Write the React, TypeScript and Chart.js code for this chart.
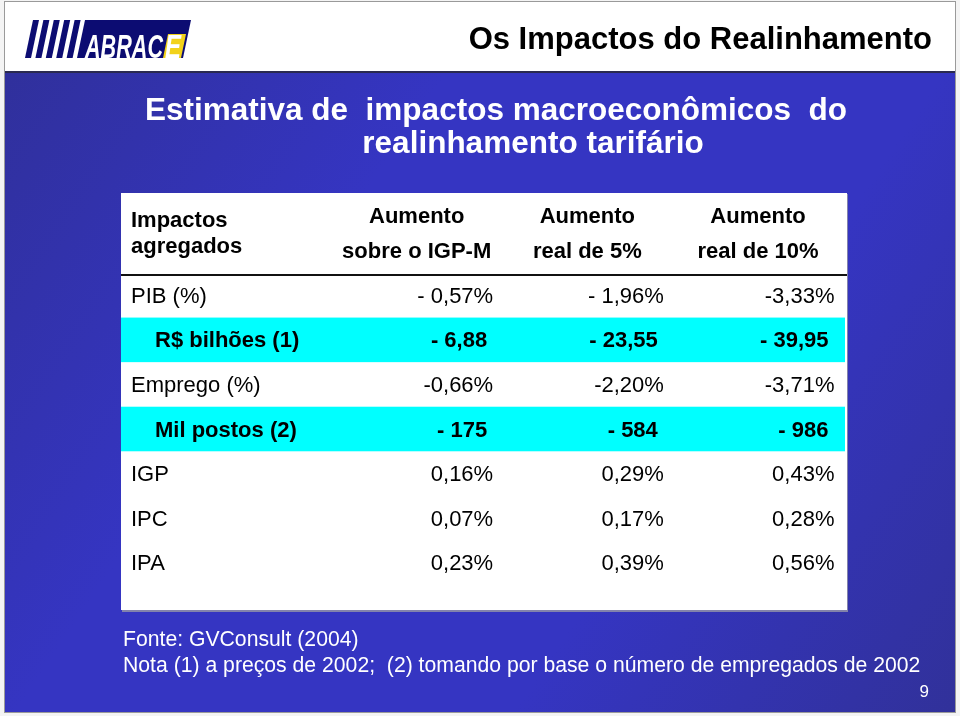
import React, { useEffect, useRef } from "react";
import { Chart, registerables } from "chart.js";

Chart.register(...registerables);

// ---------- data ----------
const slideTitle = "Os Impactos do Realinhamento";
const subtitleLines = ["Estimativa de  impactos macroeconômicos  do", "realinhamento tarifário"];
const cornerHeader = ["Impactos", "agregados"];
const scenarioKeys = ["label", "igpm", "real5", "real10"];
const scenarioHeaders = [
  ["Aumento", "sobre o IGP-M"],
  ["Aumento", "real de 5%"],
  ["Aumento", "real de 10%"],
];
const rowLabels = ["PIB (%)", "R$ bilhões (1)", "Emprego (%)", "Mil postos (2)", "IGP", "IPC", "IPA"];
const highlightRows = [false, true, false, true, false, false, false];
const igpmValues = ["- 0,57%", "- 6,88", "-0,66%", "- 175", "0,16%", "0,07%", "0,23%"];
const real5Values = ["- 1,96%", "- 23,55", "-2,20%", "- 584", "0,29%", "0,17%", "0,39%"];
const real10Values = ["-3,33%", "- 39,95", "-3,71%", "- 986", "0,43%", "0,28%", "0,56%"];
const footnotes = [
  "Fonte: GVConsult (2004)",
  "Nota (1) a preços de 2002;  (2) tomando por base o número de empregados de 2002",
];
const pageNumber = "9";

const FONT = '"Liberation Sans", Arial, Helvetica, sans-serif';
const NAVY = "#0c0c72";

function drawLogo(ctx: CanvasRenderingContext2D) {
  ctx.save();
  ctx.fillStyle = NAVY;
  // slanted stripes
  for (let i = 0; i < 6; i++) {
    const bx = 25 + i * 10.4;
    ctx.beginPath();
    ctx.moveTo(bx, 58);
    ctx.lineTo(bx + 6, 58);
    ctx.lineTo(bx + 14, 20);
    ctx.lineTo(bx + 8, 20);
    ctx.closePath();
    ctx.fill();
  }
  // banner
  ctx.beginPath();
  ctx.moveTo(82, 58);
  ctx.lineTo(183, 58);
  ctx.lineTo(191, 20);
  ctx.lineTo(90, 20);
  ctx.closePath();
  ctx.fill();
  // yellow box for E
  ctx.fillStyle = "#f2d21a";
  ctx.beginPath();
  ctx.moveTo(163, 58);
  ctx.lineTo(181, 58);
  ctx.lineTo(186, 34);
  ctx.lineTo(168, 34);
  ctx.closePath();
  ctx.fill();
  // letters
  ctx.font = `italic bold 30px ${FONT}`;
  ctx.textBaseline = "alphabetic";
  ctx.textAlign = "left";
  const w = ctx.measureText("ABRAC").width;
  ctx.save();
  ctx.translate(85, 58);
  ctx.scale(78 / w, 1.08);
  ctx.fillStyle = "#ffffff";
  ctx.fillText("ABRAC", 0, 0);
  ctx.restore();
  const we = ctx.measureText("E").width;
  ctx.save();
  ctx.translate(165, 58);
  ctx.scale(16 / we, 1.08);
  ctx.fillStyle = "#ffffff";
  ctx.fillText("E", 0, 0);
  ctx.restore();
  ctx.restore();
}

const slidePlugin = {
  id: "slideTable",
  beforeDraw(chart: any) {
    const ctx: CanvasRenderingContext2D = chart.ctx;
    const W = chart.width;
    const H = chart.height;
    const xs = chart.scales.x;
    const ys = chart.scales.y;
    ctx.save();
    // page
    ctx.fillStyle = "#f4f4f4";
    ctx.fillRect(0, 0, W, H);
    // header band
    ctx.fillStyle = "#ffffff";
    ctx.fillRect(5, 2, 950, 70);
    ctx.strokeStyle = "#9a9a9a";
    ctx.lineWidth = 1;
    ctx.strokeRect(4.5, 1.5, 951, 711);
    ctx.fillStyle = "#2a2a50";
    ctx.fillRect(5, 71, 950, 2);
    // blue gradient body
    const g = ctx.createLinearGradient(5, 73, 955, 712);
    g.addColorStop(0, "#30309c");
    g.addColorStop(0.32, "#3535c2");
    g.addColorStop(0.68, "#3535c2");
    g.addColorStop(1, "#31319a");
    ctx.fillStyle = g;
    ctx.fillRect(5, 73, 950, 639);

    drawLogo(ctx);

    // table box
    const boxL = 121, boxR = 847, boxT = 193, boxB = 610;
    ctx.fillStyle = "rgba(140,140,170,0.9)";
    ctx.fillRect(boxL + 1, boxT + 1, boxR - boxL, boxB - boxT + 1);
    ctx.fillStyle = "#ffffff";
    ctx.fillRect(boxL, boxT, boxR - boxL, boxB - boxT);

    // highlighted rows (slots from the y category scale)
    const step = ys.getPixelForValue(1) - ys.getPixelForValue(0);
    rowLabels.forEach((_, i) => {
      if (!highlightRows[i]) return;
      const c = ys.getPixelForValue(i);
      ctx.fillStyle = "#00ffff";
      ctx.fillRect(boxL, c - step / 2, boxR - 2 - boxL, step);
    });

    // header rule
    ctx.fillStyle = "#111111";
    ctx.fillRect(boxL, ys.top + 1, boxR - boxL, 2);

    // ---- texts ----
    ctx.textBaseline = "alphabetic";
    ctx.fillStyle = "#000000";
    ctx.font = `bold 31px ${FONT}`;
    ctx.textAlign = "right";
    ctx.fillText(slideTitle, 932, 49);

    ctx.fillStyle = "#ffffff";
    ctx.font = `bold 31.5px ${FONT}`;
    ctx.textAlign = "center";
    ctx.fillText(subtitleLines[0], 496, 120);
    ctx.fillText(subtitleLines[1], 533, 153);

    // header cells
    ctx.fillStyle = "#000000";
    ctx.font = `bold 22px ${FONT}`;
    ctx.textAlign = "left";
    ctx.fillText(cornerHeader[0], 131, 227);
    ctx.fillText(cornerHeader[1], 131, 253);
    ctx.textAlign = "center";
    scenarioHeaders.forEach((h, j) => {
      const x = xs.getPixelForValue(j + 1);
      ctx.fillText(h[0], x, 223);
      ctx.fillText(h[1], x, 258);
    });

    // body rows
    const cols = [igpmValues, real5Values, real10Values];
    rowLabels.forEach((label, i) => {
      const y = ys.getPixelForValue(i) + 7.5;
      const bold = highlightRows[i];
      ctx.font = `${bold ? "bold " : ""}22px ${FONT}`;
      ctx.textAlign = "left";
      ctx.fillText(label, bold ? 155 : 131, y);
      ctx.textAlign = "right";
      cols.forEach((vals, j) => {
        const x = xs.getPixelForValue(j + 1) + (bold ? 70.5 : 76.5);
        ctx.fillText(vals[i], x, y);
      });
    });

    // footnotes
    ctx.fillStyle = "#ffffff";
    ctx.font = `21.2px ${FONT}`;
    ctx.textAlign = "left";
    ctx.fillText(footnotes[0], 123, 646);
    ctx.fillText(footnotes[1], 123, 672);
    ctx.font = `17px ${FONT}`;
    ctx.textAlign = "right";
    ctx.fillText(pageNumber, 929, 697);
    ctx.restore();
  },
};

export default function App() {
  const ref = useRef<HTMLCanvasElement | null>(null);
  useEffect(() => {
    const prevMargin = document.body.style.margin;
    document.body.style.margin = "0";
    const canvas = ref.current;
    if (!canvas) return;
    const chart = new Chart(canvas, {
      type: "bar",
      data: { labels: rowLabels, datasets: [] },
      plugins: [slidePlugin],
      options: {
        animation: false,
        responsive: false,
        devicePixelRatio: 1,
        layout: { padding: { left: 246, right: 202, top: 273, bottom: 131 } },
        plugins: { legend: { display: false }, tooltip: { enabled: false }, title: { display: false } },
        scales: {
          x: { type: "category", labels: scenarioKeys, offset: false, display: false },
          y: { type: "category", labels: rowLabels, offset: true, display: false },
        },
      },
    } as any);
    return () => {
      chart.destroy();
      document.body.style.margin = prevMargin;
    };
  }, []);
  return (
    <div style={{ position: "absolute", left: 0, top: 0, width: 960, height: 716 }}>
      <canvas ref={ref} width={960} height={716} style={{ display: "block", width: 960, height: 716 }} />
    </div>
  );
}
